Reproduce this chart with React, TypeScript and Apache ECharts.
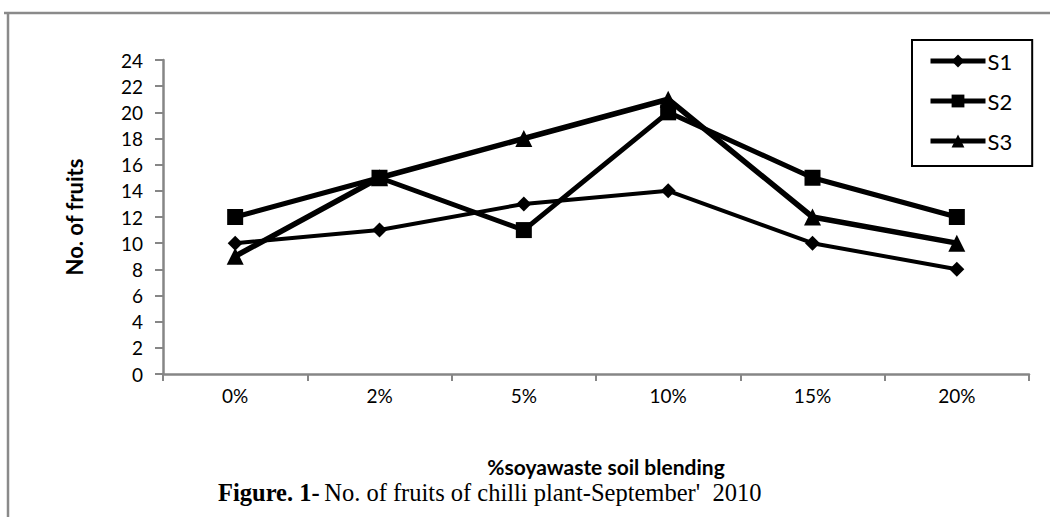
import React, { useEffect, useRef } from "react";
import * as echarts from "echarts";

const categories = ["0%", "2%", "5%", "10%", "15%", "20%"];
const s1 = [10, 11, 13, 14, 10, 8];
const s2 = [12, 15, 11, 20, 15, 12];
const s3 = [9, 15, 18, 21, 12, 10];
const seriesNames = ["S1", "S2", "S3"];
const yTicks = { min: 0, max: 24, interval: 2 };

const sans = "Lato, 'Open Sans', sans-serif";
const serif = "'Liberation Serif', 'Times New Roman', serif";

export default function App() {
  const ref = useRef<HTMLDivElement>(null);
  useEffect(() => {
    document.body.style.margin = "0";
    const chart = echarts.init(ref.current!, null, { renderer: "svg" });
    const mk = (name: string, data: number[], symbol: string, size: number, width: number) => ({
      name,
      type: "line",
      data,
      symbol,
      symbolSize: size,
      lineStyle: { color: "#000", width },
      itemStyle: { color: "#000", borderColor: "#000", borderWidth: 0 },
      emphasis: { disabled: true },
      z: 3,
    });
    chart.setOption({
      animation: false,
      backgroundColor: "#fff",
      textStyle: { fontFamily: sans },
      grid: { left: 163, right: 21, top: 60, bottom: 143, containLabel: false },
      legend: {
        orient: "vertical",
        left: 912,
        top: 40,
        padding: [10, 20, 14, 16],
        itemGap: 18,
        itemWidth: 55,
        itemHeight: 16,
        borderColor: "#000",
        borderWidth: 2,
        lineStyle: { width: 5 },
        textStyle: { fontFamily: sans, fontSize: 22, color: "#000", padding: [0, 0, 0, -3] },
        data: seriesNames,
      },
      xAxis: {
        type: "category",
        data: categories,
        boundaryGap: true,
        name: "%soyawaste soil blending",
        nameLocation: "middle",
        nameGap: 82,
        nameTextStyle: { fontFamily: sans, fontWeight: "bold", fontSize: 21, color: "#000", padding: [0, 0, 0, 20] },
        axisLine: { lineStyle: { color: "#868686", width: 2.5 } },
        axisTick: { show: true, length: 7, lineStyle: { color: "#868686", width: 2 } },
        axisLabel: { color: "#000", fontSize: 19, margin: 12, fontFamily: sans },
        splitLine: { show: false },
      },
      yAxis: {
        type: "value",
        min: yTicks.min,
        max: yTicks.max,
        interval: yTicks.interval,
        name: "No. of fruits",
        nameLocation: "middle",
        nameGap: 78,
        nameRotate: 90,
        nameTextStyle: { fontFamily: sans, fontWeight: "bold", fontSize: 22, color: "#000" },
        axisLine: { show: true, lineStyle: { color: "#868686", width: 2.5 } },
        axisTick: { show: true, length: 8, lineStyle: { color: "#868686", width: 2 } },
        axisLabel: { color: "#000", fontSize: 19, margin: 20, fontFamily: sans },
        splitLine: { show: false },
      },
      title: {
        left: 218,
        top: 480,
        padding: 0,
        text: "{b|Figure. 1-} {n|No. of fruits of chilli plant-September'  2010}",
        textStyle: {
          fontWeight: "normal",
          rich: {
            b: { fontFamily: serif, fontWeight: "bold", fontSize: 24.5, color: "#000" },
            n: { fontFamily: serif, fontWeight: "normal", fontSize: 24.5, color: "#000" },
          },
        },
      },
      graphic: [
        { type: "line", shape: { x1: 8, y1: 13, x2: 8, y2: 517 }, style: { stroke: "#8a8a8a", lineWidth: 2.5 } },
        { type: "line", shape: { x1: 4, y1: 13, x2: 1050, y2: 13 }, style: { stroke: "#8a8a8a", lineWidth: 2.5 } },
      ],
      series: [
        mk(seriesNames[0], s1, "diamond", 15, 4),
        mk(seriesNames[1], s2, "rect", 16, 5),
        mk(seriesNames[2], s3, "triangle", 17, 5.5),
      ],
    });
    return () => chart.dispose();
  }, []);
  return <div ref={ref} style={{ position: "absolute", left: 0, top: 0, width: 1050, height: 517 }} />;
}
